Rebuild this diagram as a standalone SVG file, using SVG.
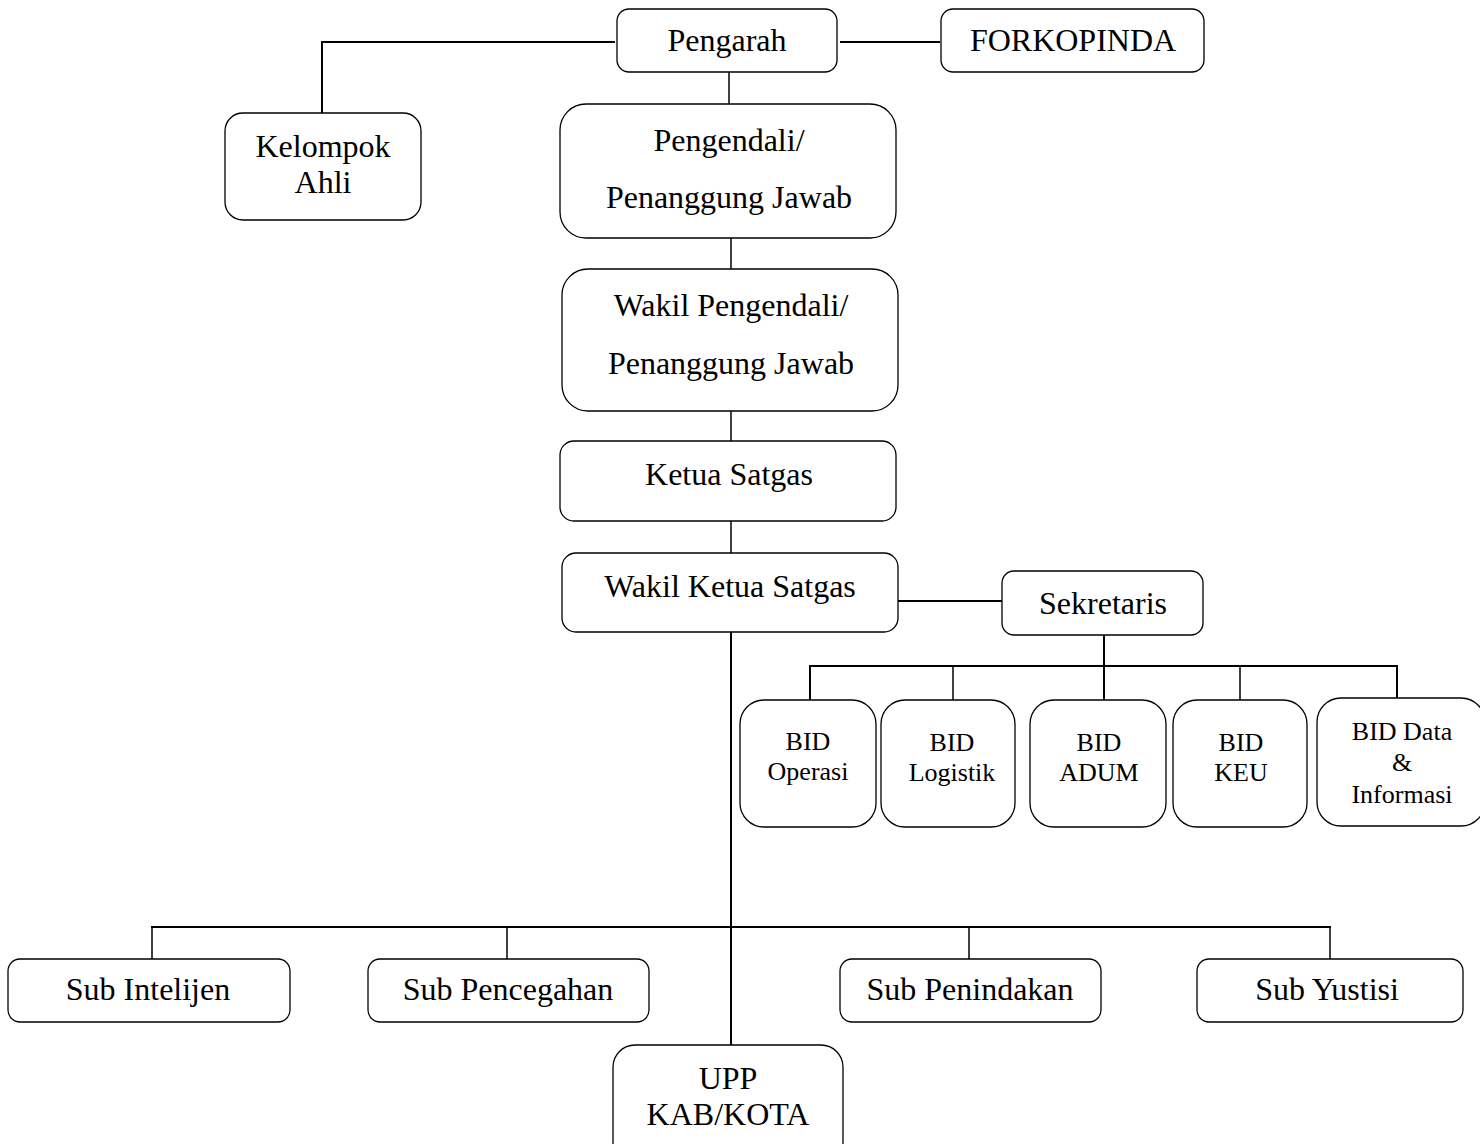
<svg xmlns="http://www.w3.org/2000/svg" width="1480" height="1144" viewBox="0 0 1480 1144">
<style>
.box{fill:#fff;stroke:#000;stroke-width:1.3}
.t{font-family:"Liberation Serif","Times New Roman",serif;font-size:32px;fill:#000;text-anchor:middle}
.s{font-size:26px}
.ln{stroke:#000;stroke-width:2;fill:none}
.thin{stroke-width:1.5}
</style>
<rect width="1480" height="1144" fill="#fff"/>
<g id="connectors">
<polyline class="ln" points="615,42 322,42 322,113"/>
<line class="ln" x1="840" y1="42" x2="940" y2="42"/>
<line class="ln thin" x1="729" y1="72" x2="729" y2="104"/>
<line class="ln thin" x1="731" y1="238" x2="731" y2="269"/>
<line class="ln thin" x1="731" y1="411" x2="731" y2="441"/>
<line class="ln thin" x1="731" y1="521" x2="731" y2="553"/>
<line class="ln" x1="898" y1="601" x2="1002" y2="601"/>
<line class="ln" x1="1104" y1="635" x2="1104" y2="666"/>
<line class="ln" x1="809" y1="666" x2="1398" y2="666"/>
<line class="ln" x1="810" y1="666" x2="810" y2="700"/>
<line class="ln thin" x1="953" y1="666" x2="953" y2="700"/>
<line class="ln" x1="1104" y1="666" x2="1104" y2="700"/>
<line class="ln thin" x1="1240" y1="666" x2="1240" y2="700"/>
<line class="ln" x1="1397" y1="666" x2="1397" y2="698"/>
<line class="ln" x1="731" y1="632" x2="731" y2="1045"/>
<line class="ln" x1="151" y1="927" x2="1331" y2="927"/>
<line class="ln thin" x1="152" y1="927" x2="152" y2="959"/>
<line class="ln thin" x1="507" y1="927" x2="507" y2="959"/>
<line class="ln thin" x1="969" y1="927" x2="969" y2="959"/>
<line class="ln thin" x1="1330" y1="927" x2="1330" y2="959"/>
</g>
<g id="pengarah"><rect class="box" x="617" y="9" width="220" height="63" rx="12"/><text class="t" x="727" y="51">Pengarah</text></g>
<g id="forkopinda"><rect class="box" x="941" y="9" width="263" height="63" rx="12"/><text class="t" x="1073" y="51">FORKOPINDA</text></g>
<g id="kelompok-ahli"><rect class="box" x="225" y="113" width="196" height="107" rx="18"/><text class="t" x="323" y="157">Kelompok</text><text class="t" x="323" y="193">Ahli</text></g>
<g id="pengendali"><rect class="box" x="560" y="104" width="336" height="134" rx="26"/><text class="t" x="729" y="151">Pengendali/</text><text class="t" x="729" y="208">Penanggung Jawab</text></g>
<g id="wakil-pengendali"><rect class="box" x="562" y="269" width="336" height="142" rx="26"/><text class="t" x="731" y="316">Wakil Pengendali/</text><text class="t" x="731" y="374">Penanggung Jawab</text></g>
<g id="ketua-satgas"><rect class="box" x="560" y="441" width="336" height="80" rx="14"/><text class="t" x="729" y="485">Ketua Satgas</text></g>
<g id="wakil-ketua-satgas"><rect class="box" x="562" y="553" width="336" height="79" rx="14"/><text class="t" x="730" y="597">Wakil Ketua Satgas</text></g>
<g id="sekretaris"><rect class="box" x="1002" y="571" width="201" height="64" rx="12"/><text class="t" x="1103" y="614">Sekretaris</text></g>
<g id="bid-operasi"><rect class="box" x="740" y="700" width="136" height="127" rx="24"/><text class="t s" x="808" y="750">BID</text><text class="t s" x="808" y="780">Operasi</text></g>
<g id="bid-logistik"><rect class="box" x="881" y="700" width="134" height="127" rx="24"/><text class="t s" x="952" y="751">BID</text><text class="t s" x="952" y="781">Logistik</text></g>
<g id="bid-adum"><rect class="box" x="1030" y="700" width="136" height="127" rx="24"/><text class="t s" x="1099" y="751">BID</text><text class="t s" x="1099" y="781">ADUM</text></g>
<g id="bid-keu"><rect class="box" x="1173" y="700" width="134" height="127" rx="24"/><text class="t s" x="1241" y="751">BID</text><text class="t s" x="1241" y="781">KEU</text></g>
<g id="bid-data"><rect class="box" x="1317" y="698" width="168" height="128" rx="24"/><text class="t s" x="1402" y="740">BID Data</text><text class="t s" x="1402" y="771">&amp;</text><text class="t s" x="1402" y="803">Informasi</text></g>
<g id="sub-intelijen"><rect class="box" x="8" y="959" width="282" height="63" rx="12"/><text class="t" x="148" y="1000">Sub Intelijen</text></g>
<g id="sub-pencegahan"><rect class="box" x="368" y="959" width="281" height="63" rx="12"/><text class="t" x="508" y="1000">Sub Pencegahan</text></g>
<g id="sub-penindakan"><rect class="box" x="840" y="959" width="261" height="63" rx="12"/><text class="t" x="970" y="1000">Sub Penindakan</text></g>
<g id="sub-yustisi"><rect class="box" x="1197" y="959" width="266" height="63" rx="12"/><text class="t" x="1327" y="1000">Sub Yustisi</text></g>
<g id="upp"><rect class="box" x="613" y="1045" width="230" height="120" rx="22"/><text class="t" x="728" y="1089">UPP</text><text class="t" x="728" y="1125">KAB/KOTA</text></g>
</svg>
